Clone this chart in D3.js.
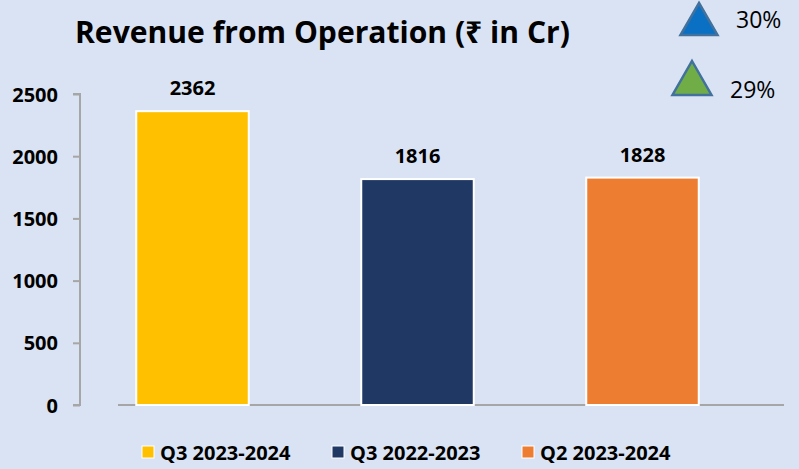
<!DOCTYPE html>
<html>
<head>
<meta charset="utf-8">
<script src="https://cdn.jsdelivr.net/npm/d3@7"></script>
<style>
  body { margin: 0; background: #dae3f3; }
  svg { display: block; }
  text { font-family: "Open Sans", "Noto Sans", sans-serif; fill: #000; }
</style>
</head>
<body>
<svg id="chart" width="799" height="469"></svg>
<script>
const categories = ["Q3 2023-2024", "Q3 2022-2023", "Q2 2023-2024"];
const revenue = [2362, 1816, 1828];
const barColors = ["#ffc000", "#203864", "#ed7d31"];
const yTicks = [0, 500, 1000, 1500, 2000, 2500];
const growth = ["30%", "29%"];
const growthColors = ["#0a70c4", "#70ad47"];

const svg = d3.select("#chart");

const x = d3.scaleBand().domain(categories).range([80, 755]).paddingInner(0.5).paddingOuter(0.25);
const y = d3.scaleLinear().domain([0, 2500]).range([405, 94]);

// title
const title = svg.append("text")
    .attr("x", 75)
    .attr("y", 43)
    .attr("font-size", 31)
    .attr("font-weight", 700)
    .text("Revenue from Operation (₹ in Cr)");
// squeeze to the width seen in the reference
const tw = title.node().getComputedTextLength();
title.attr("font-size", 31 * 495 / tw);

// y axis
const yAxis = svg.append("g")
    .attr("transform", "translate(80,0)")
    .call(d3.axisLeft(y).tickValues(yTicks).tickFormat(d3.format("d")).tickSize(7).tickPadding(15));
yAxis.selectAll("path, line").attr("stroke", "#a6a6a6").attr("stroke-width", 2);
yAxis.select(".domain").attr("d", `M-7,${y(2500)}H0V${y(0)}H-7`);
yAxis.selectAll("text")
    .attr("font-size", 20)
    .attr("font-weight", 700)
    .attr("font-family", "Open Sans, sans-serif")
    .attr("fill", "#000")
    .attr("dy", "0.35em");

// category baseline
svg.append("line")
    .attr("x1", 118).attr("x2", 784)
    .attr("y1", y(0)).attr("y2", y(0))
    .attr("stroke", "#a6a6a6")
    .attr("stroke-width", 2);

// bars
svg.append("g")
    .selectAll("rect")
    .data(revenue)
    .enter()
    .append("rect")
    .attr("x", (d, i) => x(categories[i]))
    .attr("y", d => y(d))
    .attr("width", x.bandwidth())
    .attr("height", d => y(0) - y(d))
    .attr("fill", (d, i) => barColors[i])
    .attr("stroke", "#fff")
    .attr("stroke-width", 2);

// value labels
svg.append("g")
    .selectAll("text")
    .data(revenue)
    .enter()
    .append("text")
    .attr("x", (d, i) => x(categories[i]) + x.bandwidth() / 2)
    .attr("y", d => y(d) - 16)
    .attr("text-anchor", "middle")
    .attr("font-size", 20)
    .attr("font-weight", 700)
    .text(d => d);

// legend
const legendX = [142, 332, 522];
const legend = svg.append("g")
    .selectAll("g")
    .data(categories)
    .enter()
    .append("g")
    .attr("transform", (d, i) => `translate(${legendX[i]},446)`);
legend.append("rect")
    .attr("width", 12).attr("height", 12)
    .attr("fill", (d, i) => barColors[i])
    .attr("stroke", "#fff")
    .attr("stroke-width", 1);
legend.append("text")
    .attr("x", 18)
    .attr("y", 14)
    .attr("font-size", 20)
    .attr("font-weight", 700)
    .text(d => d);

// growth triangles
const triPos = [{ cx: 699, top: 3, base: 35, w: 37, tx: 736, ty: 28 },
                { cx: 692, top: 61, base: 95, w: 39, tx: 730, ty: 98 }];
const tri = svg.append("g")
    .selectAll("g")
    .data(growth)
    .enter()
    .append("g");
tri.append("path")
    .attr("d", (d, i) => {
        const p = triPos[i];
        return `M${p.cx},${p.top}L${p.cx + p.w / 2},${p.base}L${p.cx - p.w / 2},${p.base}Z`;
    })
    .attr("fill", (d, i) => growthColors[i])
    .attr("stroke", "#41719c")
    .attr("stroke-width", 2.5)
    .attr("stroke-linejoin", "miter");
tri.append("text")
    .attr("x", (d, i) => triPos[i].tx)
    .attr("y", (d, i) => triPos[i].ty)
    .attr("font-size", 23)
    .text(d => d);
</script>
</body>
</html>
